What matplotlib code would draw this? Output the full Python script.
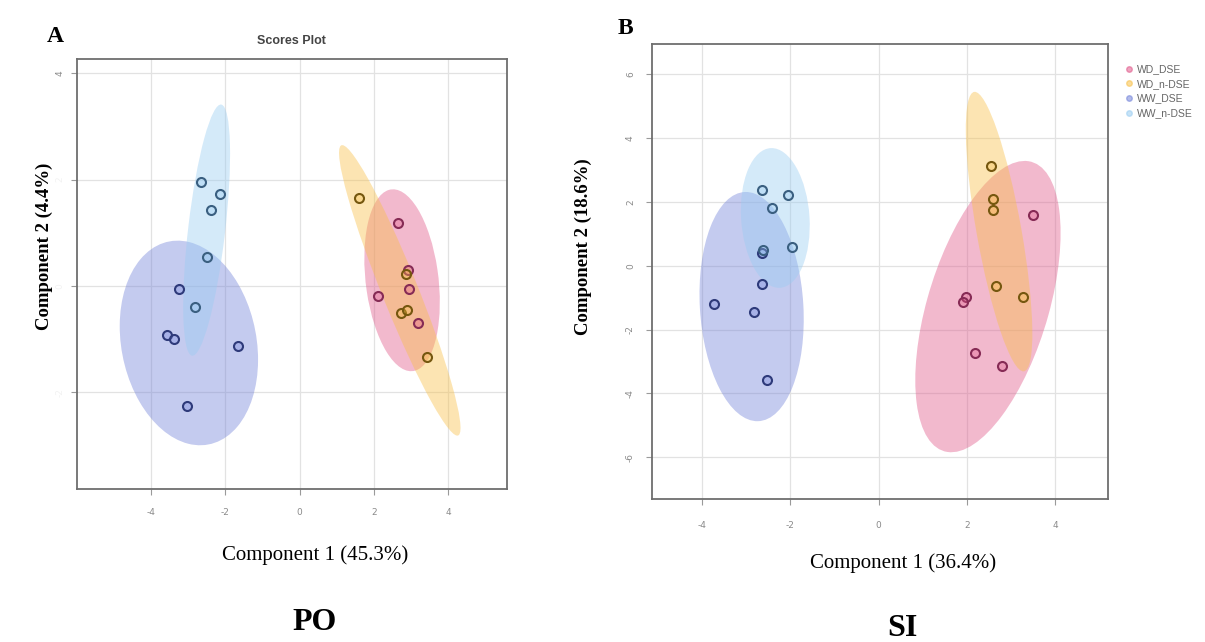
import numpy as np
import matplotlib.pyplot as plt
from matplotlib.patches import Ellipse
from matplotlib.lines import Line2D
from matplotlib.colors import to_rgba

plt.rcParams['axes.unicode_minus'] = False

groups = ['WD_DSE', 'WD_n-DSE', 'WW_DSE', 'WW_n-DSE']
fill_colors = ['#E0588A', '#F8C048', '#7383D9', '#9ACDF2']
edge_colors = ['#862B55', '#75570F', '#2E3A7A', '#3A5F80']

# Panel A - PO scores
po_wd_dse_x = [2.64, 2.93, 2.10, 2.95, 3.18]
po_wd_dse_y = [1.18, 0.30, -0.18, -0.06, -0.70]
po_wd_ndse_x = [1.60, 2.87, 2.72, 2.88, 3.42]
po_wd_ndse_y = [1.65, 0.23, -0.51, -0.45, -1.33]
po_ww_dse_x = [-3.25, -3.58, -3.39, -1.67, -3.04]
po_ww_dse_y = [-0.06, -0.92, -0.99, -1.12, -2.26]
po_ww_ndse_x = [-2.66, -2.15, -2.40, -2.50, -2.83]
po_ww_ndse_y = [1.95, 1.72, 1.42, 0.55, -0.39]

# Panel B - SI scores
si_wd_dse_x = [3.50, 1.98, 1.90, 2.19, 2.79]
si_wd_dse_y = [1.59, -0.99, -1.13, -2.72, -3.15]
si_wd_ndse_x = [2.54, 2.58, 2.58, 2.65, 3.27]
si_wd_ndse_y = [3.13, 2.08, 1.75, -0.64, -0.97]
si_ww_dse_x = [-2.65, -2.65, -3.72, -2.83, -2.54]
si_ww_dse_y = [0.39, -0.57, -1.20, -1.44, -3.58]
si_ww_ndse_x = [-2.65, -2.05, -2.41, -1.97, -2.63]
si_ww_ndse_y = [2.37, 2.22, 1.81, 0.60, 0.49]

x_ticks = [-4, -2, 0, 2, 4]
po_y_ticks = [-2, 0, 2, 4]
si_y_ticks = [-6, -4, -2, 0, 2, 4, 6]

W, H = 1205, 642
fig = plt.figure(figsize=(W / 100, H / 100), dpi=100)


def px_axes(left, top, right, bottom):
    return fig.add_axes([left / W, 1 - bottom / H, (right - left) / W, (bottom - top) / H])


def ftext(x, y, s, **kw):
    fig.text(x / W, 1 - y / H, s, ha='center', va='center', **kw)


def conf_ellipse(ax, x, y, color):
    # 95% confidence ellipse from the group covariance
    x, y = np.asarray(x), np.asarray(y)
    vals, vecs = np.linalg.eigh(np.cov(x, y))
    order = vals.argsort()[::-1]
    vals, vecs = vals[order], vecs[:, order]
    angle = np.degrees(np.arctan2(vecs[1, 0], vecs[0, 0]))
    k = np.sqrt(5.991)
    ax.add_patch(Ellipse((x.mean(), y.mean()), 2 * k * np.sqrt(vals[0]), 2 * k * np.sqrt(vals[1]),
                         angle=angle, facecolor=color, alpha=0.42, edgecolor='none', zorder=1))


def style_axes(ax, xlim, ylim, yticks, xpad, ypad):
    ax.set_xlim(*xlim)
    ax.set_ylim(*ylim)
    ax.set_xticks(x_ticks)
    ax.set_yticks(yticks)
    ax.grid(True, color='#e2e2e2', lw=0.9)
    ax.set_axisbelow(True)
    for sp in ax.spines.values():
        sp.set_color('#6e6e6e')
        sp.set_linewidth(1.3)
    ax.tick_params(direction='out', length=4, color='#9a9a9a', labelsize=6.5,
                   labelcolor='#8a8a8a')
    ax.tick_params(axis='x', pad=xpad)
    ax.tick_params(axis='y', pad=ypad)
    for lab in ax.get_yticklabels():
        lab.set_rotation(90)
        lab.set_va('center')


def draw_panel(ax, xs, ys):
    for x, y, fc in zip(xs, ys, fill_colors):
        conf_ellipse(ax, x, y, fc)
    for x, y, fc, ec in zip(xs, ys, fill_colors, edge_colors):
        ax.scatter(x, y, s=42, facecolors=[to_rgba(fc, 0.35)], edgecolors=ec,
                   linewidths=1.5, zorder=3)


# Panel A
axA = px_axes(76.7, 59.3, 506.7, 489.3)
draw_panel(axA,
           [po_wd_dse_x, po_wd_ndse_x, po_ww_dse_x, po_ww_ndse_x],
           [po_wd_dse_y, po_wd_ndse_y, po_ww_dse_y, po_ww_ndse_y])
style_axes(axA, (-6.01, 5.58), (-3.82, 4.26), po_y_ticks, 9.5, 5)
for lab in axA.get_yticklabels():
    if lab.get_text() != '4':
        lab.set_color('#f2f2f2')
axA.set_title('Scores Plot', fontsize=9, fontweight='bold', color='#444444',
              family='Liberation Sans', pad=11)

# Panel B
axB = px_axes(651.7, 44, 1108, 499.3)
draw_panel(axB,
           [si_wd_dse_x, si_wd_ndse_x, si_ww_dse_x, si_ww_ndse_x],
           [si_wd_dse_y, si_wd_ndse_y, si_ww_dse_y, si_ww_ndse_y])
style_axes(axB, (-5.14, 5.19), (-7.32, 6.95), si_y_ticks, 11.5, 8)

handles = [Line2D([], [], ls='', marker='o', markersize=4,
                  markerfacecolor=to_rgba(fc, 0.55), markeredgecolor=to_rgba(fc, 0.55))
           for fc in fill_colors]
leg = axB.legend(handles, groups, loc='upper left', bbox_to_anchor=(1121 / W, 1 - 59 / H),
                 bbox_transform=fig.transFigure, frameon=False,
                 handlelength=0.6, handletextpad=0.4, labelspacing=0.45, borderpad=0,
                 prop={'family': 'Liberation Sans', 'size': 7.5})
for t in leg.get_texts():
    t.set_color('#666666')

serif = 'Liberation Serif'
ftext(55, 36, 'A', fontsize=17, fontweight='bold', family=serif)
ftext(625, 28, 'B', fontsize=17, fontweight='bold', family=serif)
ftext(44, 246, 'Component 2 (4.4%)', fontsize=13.5, fontweight='bold', family=serif, rotation=90)
ftext(583, 247, 'Component 2 (18.6%)', fontsize=13.5, fontweight='bold', family=serif, rotation=90)
ftext(315, 555, 'Component 1 (45.3%)', fontsize=15, family=serif)
ftext(903, 563, 'Component 1 (36.4%)', fontsize=15, family=serif)
ftext(315, 622, 'PO', fontsize=23, fontweight='bold', family=serif)
ftext(902, 629, 'SI', fontsize=23, fontweight='bold', family=serif)

fig.savefig('out.png', dpi=100)
